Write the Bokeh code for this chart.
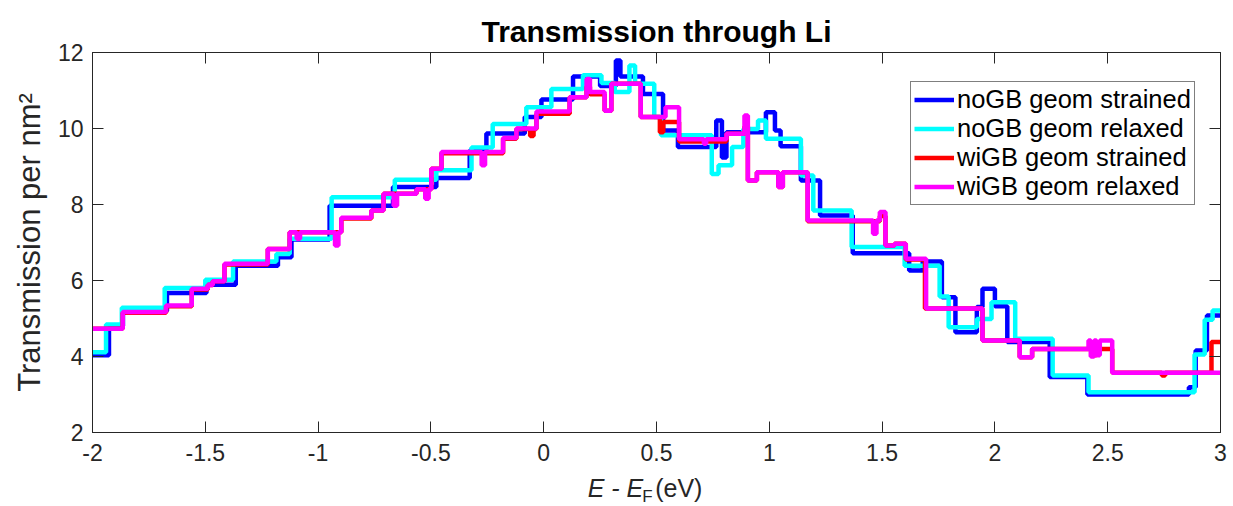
from bokeh.plotting import figure
from bokeh.models import Range1d, LinearAxis, Label, FixedTicker
from bokeh.layouts import column
from bokeh.embed import file_html
from bokeh.resources import INLINE

# ---- data: step start energies (eV) and transmission levels (per nm^2) ----
blue_x = [-2.00, -1.927, -1.865, -1.670, -1.495, -1.365, -1.178, -1.118, -0.949, -0.668,
          -0.476, -0.328, -0.254, -0.084, -0.010, 0.130, 0.250, 0.320, 0.340, 0.440,
          0.529, 0.595, 0.765, 0.790, 0.810, 0.985, 1.025, 1.050, 1.140, 1.225,
          1.370, 1.620, 1.680, 1.765, 1.825, 1.920, 1.945, 2.000, 2.055, 2.243,
          2.410, 2.860, 2.890, 2.940, 3.000]
blue_y = [4.03, 4.80, 5.20, 5.67, 5.89, 6.39, 6.61, 7.08, 7.97, 8.46,
          8.70, 9.42, 9.87, 10.30, 10.76, 11.37, 11.12, 11.79, 11.37, 10.91,
          9.95, 9.51, 10.21, 9.24, 9.90, 10.43, 9.95, 9.53, 8.63, 7.71,
          6.72, 6.26, 6.50, 5.56, 4.64, 5.30, 5.78, 5.32, 4.38, 3.46,
          3.00, 3.19, 4.16, 5.08, 5.08]

cyan_x = [-2.00, -1.940, -1.870, -1.680, -1.500, -1.377, -1.185, -1.126, -0.940, -0.660,
          -0.476, -0.320, -0.226, -0.077, 0.034, 0.174, 0.256, 0.315, 0.380, 0.405,
          0.490, 0.520, 0.745, 0.775, 0.835, 0.885, 0.950, 0.985, 1.140, 1.195,
          1.365, 1.600, 1.755, 1.795, 1.920, 1.985, 2.090, 2.256, 2.415, 2.885,
          2.930, 2.965, 3.000]
cyan_y = [4.11, 4.84, 5.28, 5.80, 6.02, 6.50, 6.70, 7.10, 8.19, 8.65,
          8.90, 9.50, 10.12, 10.56, 11.04, 11.40, 11.20, 10.96, 11.66, 11.18,
          10.30, 9.82, 8.80, 9.03, 9.51, 9.99, 10.21, 9.73, 8.76, 7.84,
          6.88, 6.39, 5.58, 4.77, 4.99, 5.43, 4.47, 3.50, 3.06, 4.05,
          4.97, 5.21, 5.21]

red_x = [-2.00, -1.866, -1.674, -1.560, -1.489, -1.467, -1.415, -1.223, -1.126, -0.897,
         -0.764, -0.710, -0.564, -0.498, -0.453, -0.180, -0.121, -0.060, -0.045, -0.032,
         0.115, 0.190, 0.205, 0.270, 0.300, 0.430, 0.515, 0.530, 0.600, 0.810,
         0.890, 0.905, 0.945, 1.040, 1.060, 1.170, 1.490, 1.515, 1.555, 1.605,
         1.690, 1.945, 2.110, 2.165, 2.430, 2.450, 2.520, 2.740, 2.755, 2.960, 3.000]
red_y = [4.73, 5.15, 5.32, 5.76, 5.88, 5.98, 6.42, 6.83, 7.27, 7.63,
         7.84, 8.28, 8.40, 8.94, 9.35, 9.73, 9.99, 9.80, 9.99, 10.39,
         10.82, 11.10, 10.90, 10.47, 11.18, 10.30, 9.90, 10.17, 9.66, 9.86,
         10.05, 8.63, 8.85, 8.46, 8.85, 7.56, 7.70, 6.92, 6.97, 6.55,
         5.26, 4.42, 3.98, 4.20, 4.03, 4.20, 3.57, 3.50, 3.57, 4.38, 4.38]

mag_x = [-2.00, -1.866, -1.674, -1.560, -1.489, -1.467, -1.415, -1.223, -1.126, -1.095,
         -1.080, -0.925, -0.910, -0.897, -0.764, -0.710, -0.665, -0.650, -0.564, -0.525,
         -0.510, -0.498, -0.453, -0.275, -0.260, -0.180, -0.121, -0.032, 0.115, 0.190,
         0.205, 0.270, 0.300, 0.430, 0.540, 0.600, 0.710, 0.720, 0.810, 0.890,
         0.905, 0.945, 1.040, 1.060, 1.170, 1.460, 1.475, 1.490, 1.515, 1.555,
         1.605, 1.695, 1.945, 2.110, 2.165, 2.415, 2.425, 2.440, 2.450, 2.465,
         2.520, 3.000]
mag_y = [4.73, 5.17, 5.34, 5.78, 5.88, 5.98, 6.44, 6.83, 7.27, 7.10,
         7.27, 6.92, 7.27, 7.65, 7.84, 8.28, 7.97, 8.28, 8.40, 8.15,
         8.40, 8.94, 9.38, 9.03, 9.38, 9.75, 10.00, 10.45, 10.82, 11.30,
         10.96, 10.47, 11.18, 10.30, 10.56, 9.72, 9.60, 9.72, 9.86, 10.34,
         8.63, 8.85, 8.46, 8.85, 7.58, 7.23, 7.58, 7.80, 6.92, 6.97,
         6.57, 5.26, 4.42, 3.98, 4.20, 4.42, 4.00, 4.42, 4.03, 4.42,
         3.57, 3.57]

series_names = ["noGB geom strained", "noGB geom relaxed", "wiGB geom strained", "wiGB geom relaxed"]
series_colors = ["#0000FF", "#00FFFF", "#FF0000", "#FF00FF"]

x_ticks = [-2, -1.5, -1, -0.5, 0, 0.5, 1, 1.5, 2, 2.5, 3]
x_tick_labels = ["-2", "-1.5", "-1", "-0.5", "0", "0.5", "1", "1.5", "2", "2.5", "3"]
y_ticks = [2, 4, 6, 8, 10, 12]
y_tick_labels = ["2", "4", "6", "8", "10", "12"]

FONT = "Liberation Sans"
AX = "#262626"

p = figure(width=1233, height=472, output_backend="svg", toolbar_location=None,
           x_range=Range1d(-2, 3), y_range=Range1d(2, 12),
           min_border_left=92, min_border_right=13, min_border_top=52, min_border_bottom=40,
           title="Transmission through Li")
p.background_fill_color = "white"
p.border_fill_color = "white"
p.outline_line_color = AX
p.grid.visible = False

p.title.align = "center"
p.title.text_font = FONT
p.title.text_font_size = "30px"
p.title.text_font_style = "bold"
p.title.text_color = "black"

for ax in (p.xaxis[0], p.yaxis[0]):
    ax.major_tick_in = 11
    ax.major_tick_out = 0
    ax.minor_tick_line_color = None
    ax.axis_line_color = AX
    ax.major_tick_line_color = AX
    ax.major_label_text_font = FONT
    ax.major_label_text_font_size = "23px"
    ax.major_label_text_color = AX

p.xaxis[0].ticker = FixedTicker(ticks=x_ticks)
p.xaxis[0].major_label_overrides = {t: s for t, s in zip(x_ticks, x_tick_labels)}
p.xaxis[0].major_label_standoff = 11
p.yaxis[0].ticker = FixedTicker(ticks=y_ticks)
p.yaxis[0].major_label_overrides = {t: s for t, s in zip(y_ticks, y_tick_labels)}
p.yaxis[0].major_label_standoff = 9
p.yaxis[0].axis_label = "Transmission per nm\u00b2"
p.yaxis[0].axis_label_text_font = FONT
p.yaxis[0].axis_label_text_font_size = "31px"
p.yaxis[0].axis_label_text_font_style = "normal"
p.yaxis[0].axis_label_text_color = AX
p.yaxis[0].axis_label_standoff = 8

top = LinearAxis(ticker=FixedTicker(ticks=x_ticks), major_label_overrides={t: "" for t in x_ticks},
                 major_tick_in=11, major_tick_out=0, minor_tick_line_color=None,
                 axis_line_color=AX, major_tick_line_color=AX, major_label_standoff=0)
right = LinearAxis(ticker=FixedTicker(ticks=y_ticks), major_label_overrides={t: "" for t in y_ticks},
                   major_tick_in=11, major_tick_out=0, minor_tick_line_color=None,
                   axis_line_color=AX, major_tick_line_color=AX, major_label_standoff=0)
p.add_layout(top, "above")
p.add_layout(right, "right")

all_x = [blue_x, cyan_x, red_x, mag_x]
all_y = [blue_y, cyan_y, red_y, mag_y]
for xs, ys, name, col in zip(all_x, all_y, series_names, series_colors):
    p.step(xs, ys, mode="after", line_color=col, line_width=4.5, legend_label=name)

lg = p.legend[0]
lg.location = (818, 227)
lg.label_text_font = FONT
lg.label_text_font_size = "25.5px"
lg.label_text_line_height = 1.0
lg.label_text_color = "black"
lg.glyph_width = 40
lg.glyph_height = 27
lg.label_height = 27
lg.label_standoff = 3
lg.spacing = 0
lg.padding = 3
lg.margin = 0
lg.border_line_color = "black"
lg.border_line_width = 1
lg.background_fill_alpha = 1.0

# ---- strip below the axes holding the x-axis label: italic E - E, subscript F, (eV) ----
q = figure(width=1233, height=34, output_backend="svg", toolbar_location=None, title=None,
           x_range=Range1d(-2, 3), y_range=Range1d(0, 34),
           x_axis_type=None, y_axis_type=None,
           min_border_left=92, min_border_right=13, min_border_top=0, min_border_bottom=0)
q.outline_line_color = None
q.background_fill_color = "white"
q.border_fill_color = "white"
q.add_layout(Label(x=0.195, y=19, text="E - E", text_font=FONT, text_font_size="25px",
                   text_font_style="italic", text_color=AX, text_baseline="alphabetic"))
q.add_layout(Label(x=0.437, y=10, text="F", text_font=FONT, text_font_size="17px",
                   text_color=AX, text_baseline="alphabetic"))
q.add_layout(Label(x=0.494, y=19, text="(eV)", text_font=FONT, text_font_size="25px",
                   text_color=AX, text_baseline="alphabetic"))

open("out.html", "w").write(file_html(column(p, q, spacing=0), INLINE))
